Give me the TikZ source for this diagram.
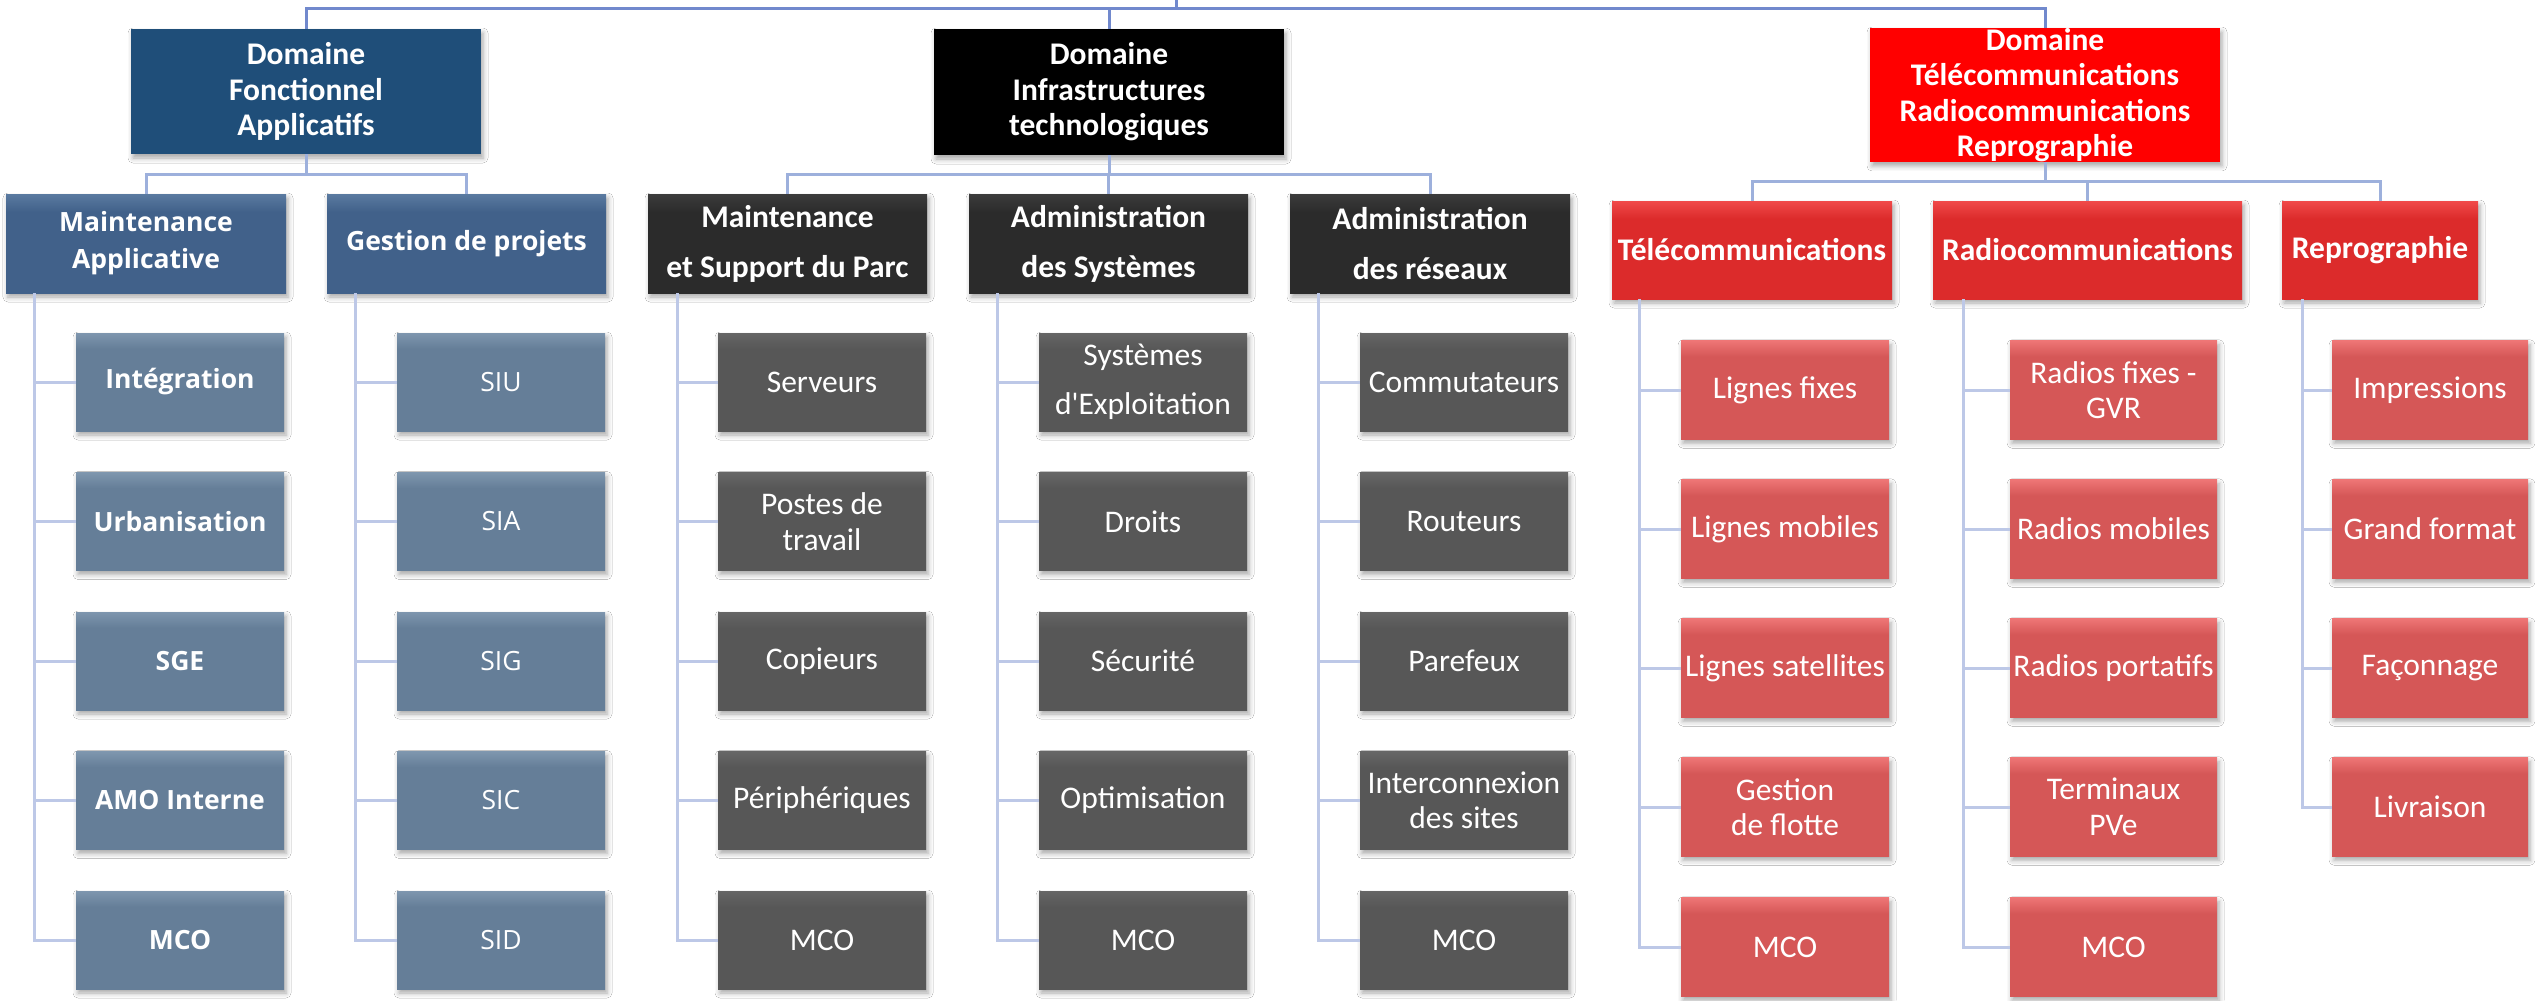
\documentclass[tikz,border=0pt]{standalone}
\usepackage{fontspec}
\setmainfont{Carlito}
\newfontfamily\osans{Open Sans}
\usetikzlibrary{shadows.blur}
\definecolor{topline}{HTML}{7189CD}
\definecolor{lvlline}{HTML}{9DB0DC}
\definecolor{leafline}{HTML}{BDC8E7}
\definecolor{dfC}{HTML}{1F4E79}
\definecolor{bluelvl}{HTML}{41618A}
\definecolor{bluelvlT}{HTML}{5A7AA0}
\definecolor{blueleaf}{HTML}{657E98}
\definecolor{blueleafT}{HTML}{7E96AE}
\definecolor{darklvl}{HTML}{2B2B2B}
\definecolor{darklvlT}{HTML}{3C3C3C}
\definecolor{darkleaf}{HTML}{575757}
\definecolor{darkleafT}{HTML}{666666}
\definecolor{redlvl}{HTML}{DC2B2B}
\definecolor{redlvlT}{HTML}{F04A4A}
\definecolor{redleaf}{HTML}{D55757}
\definecolor{redleafT}{HTML}{EE7575}
\pgfdeclareverticalshading{shBlueLvl}{100bp}{color(0bp)=(bluelvl); color(66bp)=(bluelvl); color(75bp)=(bluelvlT); color(100bp)=(bluelvlT)}
\pgfdeclareverticalshading{shBlueLeaf}{100bp}{color(0bp)=(blueleaf); color(67bp)=(blueleaf); color(75bp)=(blueleafT); color(100bp)=(blueleafT)}
\pgfdeclareverticalshading{shDarkLvl}{100bp}{color(0bp)=(darklvl); color(66bp)=(darklvl); color(75bp)=(darklvlT); color(100bp)=(darklvlT)}
\pgfdeclareverticalshading{shDarkLeaf}{100bp}{color(0bp)=(darkleaf); color(67bp)=(darkleaf); color(75bp)=(darkleafT); color(100bp)=(darkleafT)}
\pgfdeclareverticalshading{shRedLvl}{100bp}{color(0bp)=(redlvl); color(66bp)=(redlvl); color(75bp)=(redlvlT); color(100bp)=(redlvlT)}
\pgfdeclareverticalshading{shRedLeaf}{100bp}{color(0bp)=(redleaf); color(67bp)=(redleaf); color(75bp)=(redleafT); color(100bp)=(redleafT)}
\newcommand\fcal{\fontsize{31.5}{35.5}\selectfont}
\newcommand\fosn{\osans\fontsize{26.5}{37}\selectfont}
\tikzset{
  box/.style={rectangle, inner sep=0pt, align=center, text=white,
    blur shadow={shadow xshift=2pt, shadow yshift=-4pt, shadow blur radius=5pt, shadow opacity=35}},
  dom/.style={box, minimum width=350pt, font=\fcal\bfseries},
  lvlblue/.style={box, minimum width=280pt, minimum height=99pt, shade, shading=shBlueLvl, font=\fosn\bfseries},
  lvldark/.style={box, minimum width=280pt, minimum height=99pt, shade, shading=shDarkLvl, font=\fcal\bfseries},
  lvlred/.style={box, minimum height=98pt, shade, shading=shRedLvl, font=\fcal\bfseries},
  leafblue/.style={box, minimum width=208pt, minimum height=98pt, shade, shading=shBlueLeaf, font=\fosn\bfseries},
  leafgp/.style={box, minimum width=208pt, minimum height=98pt, shade, shading=shBlueLeaf, font=\fosn},
  leafdark/.style={box, minimum width=208pt, minimum height=98pt, shade, shading=shDarkLeaf, font=\fcal},
  leafred/.style={box, minimum width=208pt, minimum height=98.5pt, shade, shading=shRedLeaf, font=\fcal},
  tline/.style={draw=topline, line width=3pt},
  lline/.style={draw=lvlline, line width=3pt},
  fline/.style={draw=leafline, line width=3pt},
}
\begin{document}
\begin{tikzpicture}[x=1pt,y=1pt]
\useasboundingbox (0,0) rectangle (2535,-1001);
\fill[white] (0,0) rectangle (2535,-1001);

% ---------- domains
\node[dom, minimum height=125pt, fill=dfC] (DF) at (306,-91.5) {Domaine\\Fonctionnel\\Applicatifs};
\node[dom, minimum height=126pt, fill=black] (DI) at (1109,-92) {Domaine\\Infrastructures\\technologiques};
\node[dom, minimum height=132pt, fill=red] (DT) at (2045,-95) {Domaine\\Télécommunications\\Radiocommunications\\Reprographie};

% ---------- level 2
\node[lvlblue] (MA) at (146,-243.5) {Maintenance\\Applicative};
\node[lvlblue, minimum width=279pt] (GP) at (466.5,-243.5) {Gestion de projets};
\node[lvldark, minimum width=279pt] (MSP) at (787.5,-243.5) {Maintenance\\[14.5pt]et Support du Parc};
\node[lvldark, minimum width=279pt] (AS) at (1108.5,-243.5) {Administration\\[14.5pt]des Systèmes};
\node[lvldark] (AR) at (1430,-243.5) {Administration\\[14.5pt]des réseaux};
\node[lvlred, minimum width=280pt] (Tel) at (1752,-250) {Télécommunications};
\node[lvlred, minimum width=309pt] (Rad) at (2087.5,-250) {Radiocommunications};
\node[lvlred, minimum width=196pt] (Rep) at (2380,-250) {Reprographie};

% ---------- leaves: blue / dark rows
\node[leafblue] (MA1) at (180,-382) {Intégration};
\node[leafblue] (MA2) at (180,-521.5) {Urbanisation};
\node[leafblue] (MA3) at (180,-661) {SGE};
\node[leafblue] (MA4) at (180,-800.5) {AMO Interne};
\node[leafblue] (MA5) at (180,-940) {MCO};

\node[leafgp] (GP1) at (501,-382) {SIU};
\node[leafgp] (GP2) at (501,-521.5) {SIA};
\node[leafgp] (GP3) at (501,-661) {SIG};
\node[leafgp] (GP4) at (501,-800.5) {SIC};
\node[leafgp] (GP5) at (501,-940) {SID};

\node[leafdark] (MSP1) at (822,-382) {Serveurs};
\node[leafdark] (MSP2) at (822,-521.5) {Postes de\\travail};
\node[leafdark] (MSP3) at (822,-661) {Copieurs};
\node[leafdark] (MSP4) at (822,-800.5) {Périphériques};
\node[leafdark] (MSP5) at (822,-940) {MCO};

\node[leafdark] (AS1) at (1143,-382) {Systèmes\\[13.5pt]d\textquotesingle Exploitation};
\node[leafdark] (AS2) at (1143,-521.5) {Droits};
\node[leafdark] (AS3) at (1143,-661) {Sécurité};
\node[leafdark] (AS4) at (1143,-800.5) {Optimisation};
\node[leafdark] (AS5) at (1143,-940) {MCO};

\node[leafdark] (AR1) at (1464,-382) {Commutateurs};
\node[leafdark] (AR2) at (1464,-521.5) {Routeurs};
\node[leafdark] (AR3) at (1464,-661) {Parefeux};
\node[leafdark] (AR4) at (1464,-800.5) {Interconnexion\\des sites};
\node[leafdark] (AR5) at (1464,-940) {MCO};

% ---------- leaves: red
\node[leafred] (Tel1) at (1785,-390) {Lignes fixes};
\node[leafred] (Tel2) at (1785,-529) {Lignes mobiles};
\node[leafred] (Tel3) at (1785,-668) {Lignes satellites};
\node[leafred] (Tel4) at (1785,-807) {Gestion\\de flotte};
\node[leafred] (Tel5) at (1785,-947) {MCO};

\node[leafred, minimum width=207pt] (Rad1) at (2113.5,-390) {Radios fixes -\\GVR};
\node[leafred, minimum width=207pt] (Rad2) at (2113.5,-529) {Radios mobiles};
\node[leafred, minimum width=207pt] (Rad3) at (2113.5,-668) {Radios portatifs};
\node[leafred, minimum width=207pt] (Rad4) at (2113.5,-807) {Terminaux\\PVe};
\node[leafred, minimum width=207pt] (Rad5) at (2113.5,-947) {MCO};

\node[leafred, minimum width=196pt] (Rep1) at (2430,-390) {Impressions};
\node[leafred, minimum width=196pt] (Rep2) at (2430,-529) {Grand format};
\node[leafred, minimum width=196pt] (Rep3) at (2430,-668) {Façonnage};
\node[leafred, minimum width=196pt] (Rep4) at (2430,-807) {Livraison};

% ---------- top connectors
\coordinate (root) at (1176,0);
\coordinate (topbus) at (1176,-8);
\draw[tline] (root) -- (topbus);
\draw[tline] (DF.north) |- (topbus) -| (DT.north);
\draw[tline] (DI.north) -- (DI.north |- topbus);

% ---------- level connectors
\coordinate (DFbus) at (306,-174);
\coordinate (DIbus) at (1109,-174);
\coordinate (DTbus) at (2045,-181);
\draw[lline] (DF.south) -- (DFbus);
\draw[lline] (MA.north) |- (DFbus) -| (GP.north);
\draw[lline] (DI.south) -- (DIbus);
\draw[lline] (MSP.north) |- (DIbus) -| (AR.north);
\draw[lline] (AS.north) -- (AS.north |- DIbus);
\draw[lline] (DT.south) -- (DTbus);
\draw[lline] (Tel.north) |- (DTbus) -| (Rep.north);
\draw[lline] (Rad.north) -- (Rad.north |- DTbus);

% ---------- leaf connectors
\coordinate (MAv) at (34,-293);
\coordinate (GPv) at (355,-293);
\coordinate (MSPv) at (677,-293);
\coordinate (ASv) at (997,-293);
\coordinate (ARv) at (1318,-293);
\coordinate (Telv) at (1639,-299);
\coordinate (Radv) at (1963,-299);
\coordinate (Repv) at (2302,-299);
\foreach \c in {MA,GP,MSP,AS,AR,Tel,Rad}{
  \foreach \i in {1,...,5}{
    \draw[fline] (\c v) |- (\c\i.west);
  }
}
\foreach \i in {1,...,4}{
  \draw[fline] (Repv) |- (Rep\i.west);
}
\end{tikzpicture}
\end{document}
